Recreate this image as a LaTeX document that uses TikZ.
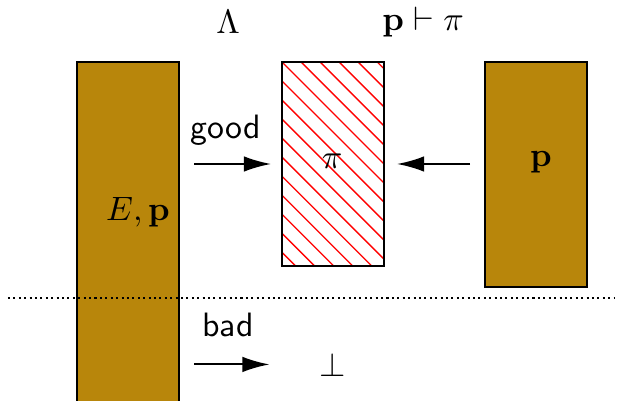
\documentclass[tikz,border=0pt]{standalone}
\usetikzlibrary{arrows.meta}
\definecolor{GoldBar}{HTML}{B8860B}
\begin{document}
\begin{tikzpicture}[x=1cm,y=1cm,bar/.style={rectangle,draw=black,semithick,fill=GoldBar,inner sep=0pt,minimum width=1.061cm,anchor=north west},hatched/.style={rectangle,draw=black,semithick,fill=white,inner sep=0pt,minimum width=1.061cm,anchor=north west,path picture={\foreach \k in {-11,...,5}{\draw[red,line width=0.4pt] ([xshift=\k*0.198cm]path picture bounding box.north west) -- ++(3,-3);}}},arr/.style={-{Latex[length=8pt,width=4.6pt]},semithick},lbl/.style={font=\sffamily}]
\useasboundingbox (0,0) rectangle (6.427,4.16);
\clip (0,0) rectangle (6.427,4.16);
\node[bar,minimum height=3.8cm] (left) at (0.790,3.526){};
\node[hatched,minimum height=2.122cm] (mid) at (2.922,3.526){};
\node[bar,minimum height=2.340cm] (right) at (5.034,3.526){};
\draw[densely dotted,semithick] (0.083,1.061) -- (6.396,1.061);
\node (lam) at (2.371,3.931){$\Lambda$};
\node (turn) at (4.399,3.931){$\mathbf{p}\vdash\pi$};
\node (pi) at (3.453,2.480){$\pi$};
\node (ep) at (1.435,1.955){$E,\mathbf{p}$};
\node (pp) at (5.626,2.470){$\mathbf{p}$};
\node[lbl] (good) at (2.350,2.808){good};
\node[lbl] (bad) at (2.371,0.780){bad};
\node (bot) at (3.463,0.370){$\perp$};
\draw[arr,shorten <=0.146cm,shorten >=0.104cm] (left.east |- mid.center) -- (mid.west);
\draw[arr,shorten <=0.146cm,shorten >=0.125cm] (right.west |- mid.center) -- (mid.east);
\draw[arr,shorten <=0.146cm,shorten >=0.40cm] (left.east |- bot.center) -- (bot.west);
\end{tikzpicture}
\end{document}
